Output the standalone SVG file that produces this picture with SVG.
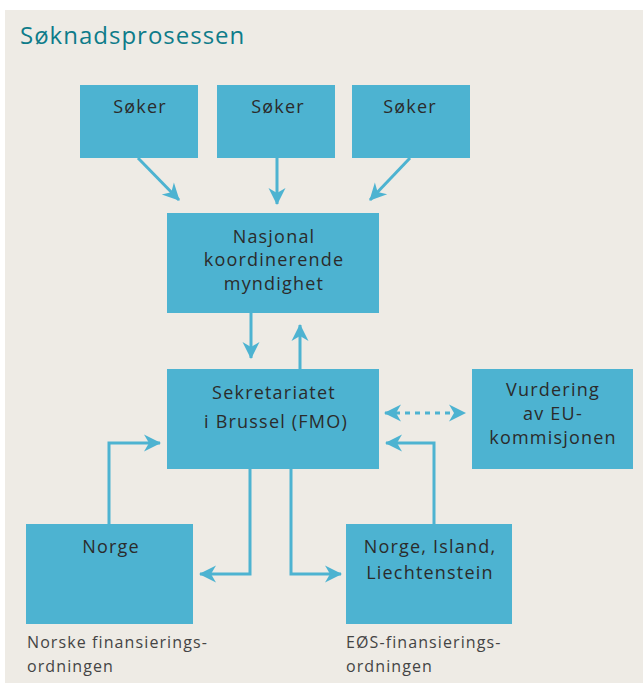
<svg xmlns="http://www.w3.org/2000/svg" width="643" height="683" viewBox="0 0 643 683">
<defs>
<marker id="ah" viewBox="0 0 20 20" refX="17" refY="10" markerWidth="20" markerHeight="20" markerUnits="userSpaceOnUse" orient="auto-start-reverse">
<path d="M18,10 L1,1.5 L6,10 L1,18.5 Z" fill="#4DB3D1"/>
</marker>
</defs>
<style>
.box{fill:#4DB3D1}
.t{font-family:"Open Sans","Liberation Sans",sans-serif;font-size:18px;letter-spacing:1.2px;fill:#2b2b2b;text-anchor:middle}
.cap{font-family:"Open Sans","Liberation Sans",sans-serif;font-size:16px;letter-spacing:1.1px;fill:#444}
.c{fill:none;stroke:#4DB3D1;stroke-width:3;marker-end:url(#ah)}
</style>
<rect x="0" y="0" width="643" height="683" fill="#ffffff"/>
<rect x="5" y="10" width="638" height="673" fill="#EEEBE5"/>
<text x="20" y="44" font-family="'Open Sans','Liberation Sans',sans-serif" font-size="24" letter-spacing="1" fill="#0E7C8A">Søknadsprosessen</text>

<g id="connectors">
<line class="c" x1="138" y1="158" x2="179" y2="200"/>
<line class="c" x1="277" y1="158" x2="277" y2="204"/>
<line class="c" x1="410" y1="158" x2="370" y2="200"/>
<line class="c" x1="251" y1="313" x2="251" y2="358"/>
<line class="c" x1="300" y1="369" x2="300" y2="325"/>
<line x1="385" y1="413" x2="465" y2="413" stroke="#4DB3D1" stroke-width="3" stroke-dasharray="5,5" marker-start="url(#ah)" marker-end="url(#ah)"/>
<polyline class="c" points="109,524 109,443 160,443"/>
<polyline class="c" points="434,524 434,443 386,443"/>
<polyline class="c" points="250,469 250,574 200,574"/>
<polyline class="c" points="291,469 291,574 341,574"/>
</g>

<g id="soker1"><rect class="box" x="80" y="85" width="118" height="73"/><text class="t" x="140" y="113">Søker</text></g>
<g id="soker2"><rect class="box" x="217" y="85" width="118" height="73"/><text class="t" x="278" y="113">Søker</text></g>
<g id="soker3"><rect class="box" x="352" y="85" width="118" height="73"/><text class="t" x="410" y="113">Søker</text></g>
<g id="nasjonal"><rect class="box" x="167" y="213" width="212" height="100"/>
<text class="t" x="274" y="243">Nasjonal</text><text class="t" x="274" y="266">koordinerende</text><text class="t" x="274" y="290">myndighet</text></g>
<g id="sekretariatet"><rect class="box" x="167" y="369" width="212" height="100"/>
<text class="t" x="274" y="399">Sekretariatet</text><text class="t" x="276" y="428">i Brussel (FMO)</text></g>
<g id="vurdering"><rect class="box" x="472" y="369" width="161" height="100"/>
<text class="t" x="553" y="396">Vurdering</text><text class="t" x="553" y="420">av EU-</text><text class="t" x="553" y="444">kommisjonen</text></g>
<g id="norge"><rect class="box" x="26" y="524" width="167" height="100"/>
<text class="t" x="111" y="553">Norge</text></g>
<g id="norge-island"><rect class="box" x="346" y="524" width="166" height="100"/>
<text class="t" x="430" y="553">Norge, Island,</text><text class="t" x="430" y="579">Liechtenstein</text></g>

<text class="cap" x="27" y="648">Norske finansierings-</text>
<text class="cap" x="27" y="672">ordningen</text>
<text class="cap" x="346" y="648">EØS-finansierings-</text>
<text class="cap" x="346" y="672">ordningen</text>
</svg>
